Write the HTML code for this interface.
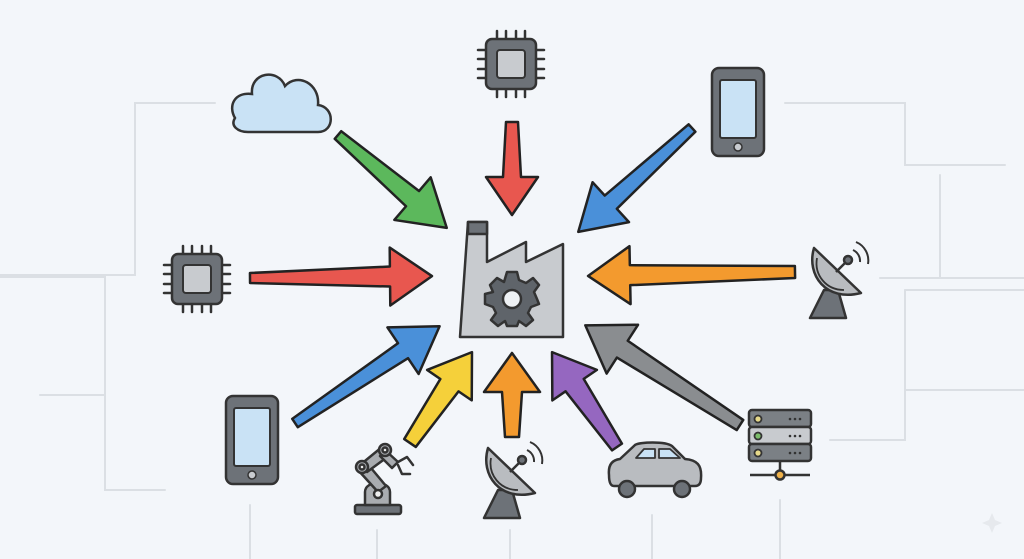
<!DOCTYPE html>
<html><head><meta charset="utf-8"><style>
html,body{margin:0;padding:0;background:#f3f6fa;}
svg{display:block}
</style></head><body>
<svg width="1024" height="559" viewBox="0 0 1024 559" xmlns="http://www.w3.org/2000/svg">
<rect width="1024" height="559" fill="#f3f6fa"/>
<g stroke="#dbdfe4" stroke-width="2" fill="none" stroke-linecap="round">
<path d="M0,275 H135 V103 H215"/>
<path d="M0,277 H105 V490 H165"/>
<path d="M40,395 H105"/>
<path d="M785,103 H905 V165 H1005"/>
<path d="M880,278 H940 V175"/>
<path d="M940,278 H1024"/>
<path d="M830,440 H905 V290"/>
<path d="M905,290 H1024"/>
<path d="M905,390 H1024"/>
<path d="M250,505 V559"/><path d="M377,530 V559"/><path d="M510,530 V559"/><path d="M652,515 V559"/><path d="M780,500 V559"/>
</g>
<defs>
<g id="chip">
<g stroke="#333" stroke-width="2.5" stroke-linecap="round">
<path d="M-14,-33V-24M-5,-33V-24M5,-33V-24M14,-33V-24M-14,24V33M-5,24V33M5,24V33M14,24V33M-33,-14H-24M-33,-5H-24M-33,5H-24M-33,14H-24M24,-14H33M24,-5H33M24,5H33M24,14H33"/>
</g>
<rect x="-25" y="-25" width="50" height="50" rx="6" fill="#6d7278" stroke="#333" stroke-width="2.5"/>
<rect x="-14" y="-14" width="28" height="28" rx="3" fill="#c8cbcf" stroke="#333" stroke-width="2"/>
</g>
<g id="phone">
<rect x="-26" y="-44" width="52" height="88" rx="7" fill="#6d7278" stroke="#333" stroke-width="2.5"/>
<rect x="-18" y="-32" width="36" height="58" rx="2" fill="#c9e2f5" stroke="#333" stroke-width="2"/>
<circle cx="0" cy="35" r="4" fill="#c8cbcf" stroke="#333" stroke-width="1.5"/>
</g>
<g id="dish" stroke="#333" stroke-width="2.5" stroke-linejoin="round">
<path d="M-12,10 L-26,38 H10 L2,10Z" fill="#6d7278"/>
<path d="M-22,-32 C-30,-5 -10,22 25,13 Z" fill="#b9bcc0"/>
<path d="M-19,-22 C-22,-5 -10,10 8,10" fill="none" stroke-width="1.8"/>
<path d="M0,-8 L10,-18" fill="none"/>
<circle cx="12" cy="-20" r="4" fill="#6d7278"/>
<path d="M17,-30 A12,12 0 0 1 24,-18 M20,-38 A20,20 0 0 1 32,-16" fill="none" stroke-width="2"/>
</g>
</defs>
<g stroke="#222" stroke-width="2.5" stroke-linejoin="round">
<path transform="translate(338,135) rotate(40.5)" d="M0,-5 L98,-10 L98,-28 L143,0 L98,28 L98,10 L0,5Z" fill="#5cb85c"/>
<path transform="translate(512,122) rotate(90)" d="M0,-6 L55,-9 L55,-26 L93,0 L55,26 L55,9 L0,6Z" fill="#e8574f"/>
<path transform="translate(692,128) rotate(137.6)" d="M0,-5 L110,-9 L110,-27 L154,0 L110,27 L110,9 L0,5Z" fill="#4a90d9"/>
<path transform="translate(250,278) rotate(-0.6)" d="M0,-5 L140,-10 L140,-29 L182,0 L140,29 L140,10 L0,5Z" fill="#e8574f"/>
<path transform="translate(795,272) rotate(178.9)" d="M0,-6 L165,-10 L165,-29 L207,0 L165,29 L165,10 L0,6Z" fill="#f39a2e"/>
<path transform="translate(295,423) rotate(-33.8)" d="M0,-5 L130,-9 L130,-28 L174,0 L130,28 L130,9 L0,5Z" fill="#4a90d9"/>
<path transform="translate(410,443) rotate(-55.7)" d="M0,-7 L70,-11 L70,-27 L110,0 L70,27 L70,11 L0,7Z" fill="#f5d03a"/>
<path transform="translate(512,437) rotate(-90)" d="M0,-7 L45,-10 L45,-28 L84,0 L45,28 L45,10 L0,7Z" fill="#f39a2e"/>
<path transform="translate(617,447) rotate(-124.4)" d="M0,-6 L75,-11 L75,-27 L115,0 L75,27 L75,11 L0,6Z" fill="#9567c0"/>
<path transform="translate(740,425) rotate(-147.2)" d="M0,-6 L140,-10 L140,-29 L184,0 L140,29 L140,10 L0,6Z" fill="#8a8d90"/>
</g>
<g stroke="#333" stroke-width="2.5" stroke-linejoin="round">
<path d="M468,222 H487 V262 L526,242 V262 L563,244 V337 H460 Z" fill="#c8cbcf"/>
<rect x="468" y="222" width="19" height="12" fill="#6d7278"/>
<g transform="translate(512,299)">
<path d="M-5,-27 H5 L7,-19 L14,-16 L21,-21 L27,-14 L22,-7 L25,0 L27,5 L19,8 L16,14 L21,21 L14,27 L7,22 L5,27 H-5 L-7,22 L-14,27 L-21,21 L-16,14 L-19,8 L-27,5 L-27,-5 L-19,-7 L-22,-14 L-15,-21 L-8,-17 Z" fill="#5f646a"/>
<circle r="9" fill="#eef1f4"/>
</g>
</g>
<path d="M248,132 H318 C335,132 335,107 318,105 C320,84 298,72 285,86 C278,68 250,72 252,94 C234,92 228,106 235,118 C230,126 238,132 248,132Z" fill="#c9e2f5" stroke="#333" stroke-width="2.5"/>
<use href="#chip" transform="translate(511,64)"/>
<use href="#chip" transform="translate(197,279)"/>
<use href="#phone" transform="translate(738,112)"/>
<use href="#phone" transform="translate(252,440)"/>
<use href="#dish" transform="translate(836,280)"/>
<use href="#dish" transform="translate(510,480)"/>
<g stroke="#333" stroke-width="2.5" stroke-linejoin="round" stroke-linecap="round">
<rect x="355" y="505" width="46" height="9" rx="2" fill="#6d7278"/>
<path d="M365,505 V492 C365,480 390,480 390,492 V505Z" fill="#a9acb0"/>
<path d="M378,492 L358,470 L366,462 L386,486Z" fill="#a9acb0"/>
<path d="M360,465 L382,447 L390,455 L367,472Z" fill="#a9acb0"/>
<path d="M385,450 L398,462 L392,468 L380,456Z" fill="#a9acb0"/>
<circle cx="378" cy="494" r="4" fill="#eee"/>
<circle cx="362" cy="467" r="6" fill="#a9acb0"/><circle cx="362" cy="467" r="2.5" fill="#eee"/>
<circle cx="385" cy="450" r="6" fill="#a9acb0"/><circle cx="385" cy="450" r="2.5" fill="#eee"/>
<path d="M398,462 L407,457 L413,465 M398,465 L402,474 L410,474" fill="none"/>
</g>
<g stroke="#333" stroke-width="2.5" stroke-linejoin="round">
<path d="M609,475 C608,465 612,460 620,459 L635,445 C640,442 665,441 672,446 L685,459 C697,460 702,465 701,478 Q701,486 695,486 H614 Q609,486 609,475Z" fill="#b9bcc0"/>
<path d="M636,458 L644,449 H655 V458Z M659,449 H670 L680,458 H659Z" fill="#c9e2f5" stroke-width="1.8"/>
<circle cx="627" cy="489" r="8" fill="#6d7278"/>
<circle cx="682" cy="489" r="8" fill="#6d7278"/>
</g>
<g stroke="#333" stroke-width="2.5">
<path d="M780,462 V475 M750,475 H810" fill="none"/>
<circle cx="780" cy="475" r="4.5" fill="#f0b24a"/>
<rect x="749" y="410" width="62" height="17" rx="3" fill="#7b8085"/>
<rect x="749" y="427" width="62" height="17" rx="3" fill="#c8cbcf"/>
<rect x="749" y="444" width="62" height="17" rx="3" fill="#7b8085"/>
<circle cx="758" cy="419" r="3.5" fill="#e6d98a" stroke-width="1.8"/>
<circle cx="758" cy="436" r="3.5" fill="#7bbd6a" stroke-width="1.8"/>
<circle cx="758" cy="453" r="3.5" fill="#e6d98a" stroke-width="1.8"/>
</g>
<g fill="#333">
<circle cx="790" cy="419" r="1.3"/><circle cx="795" cy="419" r="1.3"/><circle cx="800" cy="419" r="1.3"/>
<circle cx="790" cy="436" r="1.3"/><circle cx="795" cy="436" r="1.3"/><circle cx="800" cy="436" r="1.3"/>
<circle cx="790" cy="453" r="1.3"/><circle cx="795" cy="453" r="1.3"/><circle cx="800" cy="453" r="1.3"/>
</g>
<path d="M992,513 L995,520 L1002,523 L995,526 L992,533 L989,526 L982,523 L989,520Z" fill="#e6e9ed"/>
</svg>
</body></html>
